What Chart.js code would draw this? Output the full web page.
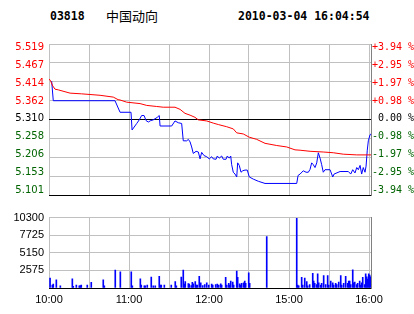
<!DOCTYPE html>
<html>
<head>
<meta charset="utf-8">
<script src="https://cdn.jsdelivr.net/npm/chart.js@4.4.1/dist/chart.umd.min.js"></script>
<style>
  html, body { margin: 0; padding: 0; background: #fff; }
  #wrap { position: relative; width: 414px; height: 314px; overflow: hidden; }
  canvas { position: absolute; left: 0; }
  #priceCanvas { top: 0; }
  #volCanvas { top: 206px; }
  .hd { position: absolute; white-space: nowrap; color: #000; }
  #code { left: 50px; top: 9px; font: bold 11.5px "DejaVu Sans Mono", monospace; }
  #name { left: 106px; top: 6px; font: 13px "Noto Sans CJK SC", sans-serif; }
  #stamp { left: 238px; top: 9px; font: bold 11.5px "DejaVu Sans Mono", monospace; }
</style>
</head>
<body>
<div id="wrap">
  <div class="hd" id="code">03818</div>
  <div class="hd" id="name">中国动向</div>
  <div class="hd" id="stamp">2010-03-04 16:04:54</div>
  <canvas id="priceCanvas" width="414" height="206"></canvas>
  <canvas id="volCanvas" width="414" height="108"></canvas>
</div>
<script>
/* ── DATA ─────────────────────────────────────────────────────────────── */
// trading minutes from 10:00 (lunch break removed), 30-minute grid
const TIME_GRID = [0, 30, 60, 90, 120, 150, 180, 210, 240];
const TIME_TICK_MIN = [0, 60, 120, 180, 240];
const TIME_TICK_TEXT = ["10:00", "11:00", "12:00", "15:00", "16:00"];

const PRICE_TICKS = [5.101, 5.153, 5.206, 5.258, 5.310, 5.362, 5.414, 5.467, 5.519];
const PRICE_LABELS = ["5.101", "5.153", "5.206", "5.258", "5.310", "5.362", "5.414", "5.467", "5.519"];
const PCT_LABELS = ["-3.94 %", "-2.95 %", "-1.97 %", "-0.98 %", " 0.00 %", "+0.98 %", "+1.97 %", "+2.95 %", "+3.94 %"];
const VOL_TICKS = [0, 2575, 5150, 7725, 10300];

const priceMin = [2.0, 3.2, 49.5, 53.3, 61.5, 62.3, 65.8, 67.7, 69.5, 71.3, 72.8, 74.5, 76.3, 78.2, 81.2, 82.7,
  83.3, 92.0, 94.5, 97.0, 99.5, 100.7, 103.3, 104.5, 105.8, 107.0, 108.2, 110.3, 112.0, 113.3, 114.5, 116.3,
  118.3, 120.2, 122.0, 123.2, 125.3, 126.2, 127.7, 129.5, 130.7, 132.8, 133.7, 135.2, 136.3, 137.0, 138.2,
  139.5, 140.8, 141.5, 142.7, 144.0, 145.3, 147.0, 148.7, 150.2, 153.2, 157.0, 162.0, 185.8, 186.8, 188.3,
  190.7, 192.8, 194.5, 195.8, 197.0, 198.2, 199.5, 200.8, 202.0, 203.3, 204.5, 205.7, 207.0, 210.8, 212.8,
  213.8, 218.3, 224.5, 226.3, 227.8, 229.5, 230.8, 232.0, 233.3, 234.5, 235.7, 237.0, 237.8, 238.7, 239.5,
  240.8, 241.5];
const priceVal = [5.416, 5.362, 5.362, 5.330, 5.330, 5.281, 5.299, 5.309, 5.321, 5.321, 5.307, 5.303, 5.307,
  5.309, 5.316, 5.321, 5.292, 5.292, 5.306, 5.301, 5.299, 5.251, 5.251, 5.255, 5.248, 5.234, 5.216, 5.222,
  5.220, 5.201, 5.219, 5.210, 5.207, 5.201, 5.207, 5.201, 5.200, 5.209, 5.203, 5.209, 5.200, 5.200, 5.209,
  5.203, 5.209, 5.185, 5.164, 5.159, 5.151, 5.190, 5.183, 5.164, 5.168, 5.170, 5.170, 5.151, 5.145, 5.139,
  5.133, 5.133, 5.155, 5.159, 5.168, 5.164, 5.164, 5.172, 5.190, 5.185, 5.177, 5.190, 5.218, 5.203, 5.185,
  5.164, 5.171, 5.171, 5.151, 5.159, 5.166, 5.166, 5.159, 5.171, 5.162, 5.177, 5.171, 5.183, 5.159, 5.177,
  5.164, 5.181, 5.225, 5.251, 5.268, 5.270];

const avgMin = [0.2, 1.3, 2.8, 4.5, 7.0, 15.8, 24.5, 38.3, 48.2, 51.8, 53.3, 58.3, 68.3, 73.3, 80.8, 85.7,
  94.5, 98.3, 102.0, 105.8, 109.5, 112.0, 118.3, 123.2, 127.0, 133.3, 138.2, 140.8, 145.7, 150.2, 155.8,
  162.0, 170.8, 178.3, 184.5, 188.3, 195.8, 205.7, 213.2, 220.7, 230.8, 241.5];
const avgVal = [5.422, 5.416, 5.403, 5.394, 5.392, 5.383, 5.381, 5.377, 5.372, 5.365, 5.364, 5.358, 5.354,
  5.349, 5.346, 5.344, 5.344, 5.338, 5.327, 5.322, 5.316, 5.309, 5.306, 5.300, 5.296, 5.290, 5.284, 5.273,
  5.270, 5.261, 5.255, 5.244, 5.238, 5.234, 5.226, 5.225, 5.222, 5.220, 5.218, 5.214, 5.212, 5.212];

const volMin = [0.8, 2.5, 3.2, 5.5, 8.5, 17.5, 18.2, 20.5, 22.7, 23.5, 24.2, 28.7, 31.7, 40.7, 41.5, 49.7,
  53.5, 61.7, 62.5, 68.5, 69.2, 71.5, 72.2, 73.7, 76.7, 78.2, 79.7, 82.7, 83.5, 84.2, 86.5, 91.7, 94.7, 95.5,
  99.2, 100.7, 101.5, 102.2, 104.5, 105.2, 106.7, 107.5, 108.2, 109.7, 110.5, 111.2, 112.7, 113.8, 115.3,
  116.8, 118.3, 119.8, 122.0, 122.8, 125.0, 126.2, 127.3, 128.8, 129.5, 132.5, 133.3, 134.8, 135.5, 136.3,
  137.8, 138.5, 140.8, 141.5, 143.0, 143.8, 144.5, 146.0, 146.8, 147.5, 149.8, 150.5, 163.3, 185.8, 186.5,
  187.3, 189.5, 190.3, 191.8, 193.3, 194.0, 195.5, 197.8, 198.5, 199.3, 200.8, 201.5, 202.3, 203.8, 204.5,
  206.0, 207.5, 209.0, 209.8, 211.3, 212.8, 213.5, 215.0, 215.8, 217.3, 218.8, 219.5, 221.0, 222.5, 224.0,
  224.8, 225.5, 226.3, 227.8, 228.5, 229.3, 230.8, 231.5, 233.0, 233.8, 234.5, 235.3, 236.8, 237.5, 238.3,
  239.0, 239.8, 240.5, 241.3];
const volVal = [1460, 430, 560, 1200, 300, 1330, 260, 430, 300, 340, 430, 430, 815, 1200, 300, 2620,
  2360, 2360, 300, 1330, 430, 300, 300, 430, 1590, 300, 300, 1720, 430, 430, 430, 430, 945, 300,
  1590, 2620, 560, 945, 645, 560, 340, 815, 600, 945, 430, 430, 1720, 770, 340,
  515, 770, 430, 560, 430, 515, 560, 430, 600, 430, 1545, 430, 690, 430, 1030,
  860, 430, 2490, 1545, 600, 430, 690, 770, 1030, 690, 2230, 690, 7510, 10200, 430,
  300, 1545, 430, 1460, 945, 300, 515, 2150, 1030, 690, 515, 2060, 770, 430, 690,
  1800, 515, 1800, 430, 1030, 770, 430, 690, 515, 860, 1800, 430, 690, 1720, 690,
  1030, 1030, 515, 2660, 770, 860, 515, 690, 1030, 430, 770, 1545, 515, 2060, 1630,
  1290, 2060, 1890, 1630];

/* ── STYLE ────────────────────────────────────────────────────────────── */
const RED = "#ff0000";
const GREEN = "#006400";
const BLUE = "#0000ff";
const GRID = "#c0c0c0";
const FRAME = "#808080";

function sideColor(i) {
  if (i > 4) return RED;
  if (i < 4) return GREEN;
  return "#000";
}

function toPoints(xs, ys) {
  return xs.map((x, i) => ({ x: x, y: ys[i] }));
}

const setTicks = (vals) => (scale) => {
  scale.ticks = vals.map((v) => ({ value: v }));
};
const INDEX_TICKS = PRICE_LABELS.map((_, i) => i);

const timeAxis = {
  type: "linear",
  min: 0,
  max: 241.5,
  offset: false,
  afterBuildTicks: setTicks(TIME_GRID),
  grid: { color: GRID, drawTicks: false, offset: false },
  border: { display: false },
};

/* ── PRICE PANEL ──────────────────────────────────────────────────────── */
new Chart(document.getElementById("priceCanvas"), {
  type: "line",
  data: {
    datasets: [
      { data: toPoints(avgMin, avgVal), borderColor: RED, borderWidth: 1, pointRadius: 0, tension: 0, yAxisID: "y" },
      { data: toPoints(priceMin, priceVal), borderColor: BLUE, borderWidth: 1, pointRadius: 0, tension: 0, yAxisID: "y" },
    ],
  },
  options: {
    responsive: false,
    animation: false,
    devicePixelRatio: 1,
    layout: { padding: { top: 44, bottom: 2, left: 0, right: 0 } },
    plugins: { legend: { display: false }, tooltip: { enabled: false } },
    scales: {
      x: Object.assign({}, timeAxis, {
        ticks: { display: false },
        afterFit: (s) => { s.height = 0; },
      }),
      y: {
        position: "left",
        min: PRICE_TICKS[0],
        max: PRICE_TICKS[PRICE_TICKS.length - 1],
        afterBuildTicks: setTicks(PRICE_TICKS),
        grid: { color: (c) => (c.index === 0 || c.index === 4 ? "#000" : GRID), drawTicks: false },
        border: { display: false },
        ticks: { display: false },
        afterFit: (s) => { s.width = 0; },
      },
      yL: {
        position: "left",
        min: -0.247,
        max: 8.174,
        afterBuildTicks: setTicks(INDEX_TICKS),
        grid: { display: false, drawTicks: false },
        border: { display: false },
        ticks: {
          autoSkip: false,
          padding: 5,
          color: (c) => sideColor(c.index),
          font: { family: "DejaVu Sans", size: 10 },
          callback: (v, i) => PRICE_LABELS[i],
        },
        afterFit: (s) => { s.width = 49; },
      },
      yR: {
        position: "right",
        min: -0.247,
        max: 8.174,
        afterBuildTicks: setTicks(INDEX_TICKS),
        grid: { display: false, drawTicks: false },
        border: { display: true, color: FRAME },
        ticks: {
          autoSkip: false,
          padding: 1,
          color: (c) => sideColor(c.index),
          font: { family: "DejaVu Sans Mono", size: 10 },
          callback: (v, i) => PCT_LABELS[i],
        },
        afterFit: (s) => { s.width = 43; },
      },
    },
  },
});

/* ── VOLUME PANEL ─────────────────────────────────────────────────────── */
new Chart(document.getElementById("volCanvas"), {
  type: "bar",
  data: {
    datasets: [
      { data: toPoints(volMin, volVal), backgroundColor: BLUE, borderWidth: 0, barThickness: 1, yAxisID: "yV" },
    ],
  },
  options: {
    responsive: false,
    animation: false,
    devicePixelRatio: 1,
    layout: { padding: { top: 3, bottom: 0, left: 0, right: 0 } },
    plugins: { legend: { display: false }, tooltip: { enabled: false } },
    scales: {
      x: Object.assign({}, timeAxis, {
        border: { display: true, color: "#000" },
        ticks: {
          autoSkip: false,
          maxRotation: 0,
          padding: 5,
          color: "#000",
          font: { family: "Liberation Sans", size: 11 },
          callback: (v) => {
            const i = TIME_TICK_MIN.indexOf(v);
            return i < 0 ? "" : TIME_TICK_TEXT[i];
          },
        },
        afterFit: (s) => { s.height = 26; },
      }),
      yV: {
        position: "left",
        min: 0,
        max: VOL_TICKS[VOL_TICKS.length - 1],
        afterBuildTicks: setTicks(VOL_TICKS),
        grid: { color: (c) => (c.index === 0 ? "#000" : GRID), drawTicks: false },
        border: { display: false },
        ticks: {
          autoSkip: false,
          padding: 5,
          color: "#000",
          font: { family: "Liberation Sans", size: 11 },
          callback: (v, i) => (i === 0 ? "" : String(v)),
        },
        afterFit: (s) => { s.width = 49; },
      },
      yVR: {
        position: "right",
        min: 0,
        max: 1,
        grid: { display: false, drawTicks: false },
        border: { display: true, color: FRAME },
        ticks: { display: false },
        afterFit: (s) => { s.width = 43; },
      },
    },
  },
});
</script>
</body>
</html>
